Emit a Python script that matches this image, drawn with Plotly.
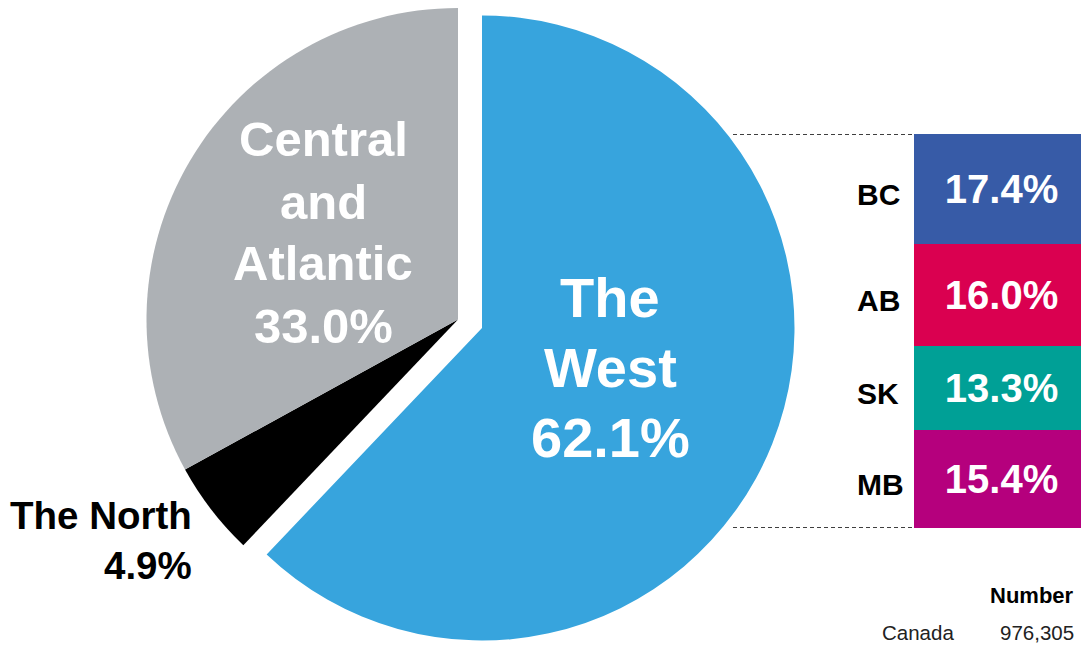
import plotly.graph_objects as go

# ---- data ----
pie_labels = ["The West", "The North", "Central and Atlantic"]
pie_values = [62.1, 4.9, 33.0]
pie_colors = ["#37a4dd", "#000000", "#adb1b5"]

prov_labels = ["MB", "SK", "AB", "BC"]          # bottom to top
prov_values = [15.4, 13.3, 16.0, 17.4]
prov_colors = ["#b5007d", "#00a096", "#da0050", "#375ba7"]

table_header = "Number"
table_rows = [("Canada", "976,305")]

# page body has an 8px default margin; lay out in reference pixels and shift
OFF = 8
W, H = 1089 - OFF, 646 - OFF
FONT = "Liberation Sans, Arial, sans-serif"
CLEAR = "rgba(0,0,0,0)"


def fx(x):
    return (x - OFF) / W


def fy(y):
    return (H - (y - OFF)) / H


def dom_x(c, r):
    return [fx(c - r), fx(c + r)]


def dom_y(c, r):
    return [fy(c + r), fy(c - r)]


fig = go.Figure()

# West slice (pulled out) drawn as its own pie layer
fig.add_trace(go.Pie(
    labels=pie_labels, values=pie_values, sort=False, direction="clockwise", rotation=0,
    marker=dict(colors=[pie_colors[0], CLEAR, CLEAR], line=dict(width=0)),
    textinfo="none", hoverinfo="skip", showlegend=False,
    domain=dict(x=dom_x(482, 312.5), y=dom_y(328, 312.5)),
))
# North + Central slices
fig.add_trace(go.Pie(
    labels=pie_labels, values=pie_values, sort=False, direction="clockwise", rotation=0,
    marker=dict(colors=[CLEAR, pie_colors[1], pie_colors[2]], line=dict(width=0)),
    textinfo="none", hoverinfo="skip", showlegend=False,
    domain=dict(x=dom_x(458, 311.5), y=dom_y(319.5, 311.5)),
))

# stacked bar for provinces of the West
for lab, val, col in zip(prov_labels, prov_values, prov_colors):
    fig.add_trace(go.Bar(
        x=[""], y=[val], name=lab, marker=dict(color=col, line=dict(width=0)),
        text=[f"{val:.1f}%"], textposition="inside", insidetextanchor="middle",
        textangle=0, constraintext="none",
        textfont=dict(family=FONT, size=40, color="white", weight="bold"),
        hoverinfo="skip", showlegend=False,
    ))

total = sum(prov_values)
bar_top, bar_bot = 134, 528
fig.update_layout(
    width=W, height=H, margin=dict(l=0, r=0, t=0, b=0),
    paper_bgcolor="white", plot_bgcolor="white",
    barmode="stack", bargap=0,
    xaxis=dict(domain=[fx(914), 1], visible=False, fixedrange=True),
    yaxis=dict(domain=[fy(bar_bot), fy(bar_top)], range=[0, total],
               visible=False, fixedrange=True),
)

# dashed connector lines
for yv in (0, total):
    fig.add_shape(type="line", xref="paper", yref="y", x0=fx(733), x1=fx(914), y0=yv, y1=yv,
                  line=dict(color="black", width=1.3, dash="4px,3px"))

ann = []
# province labels
cum = 0
for lab, val in zip(prov_labels, prov_values):
    mid = cum + val / 2
    cum += val
    ann.append(dict(x=fx(855), y=mid, xref="paper", yref="y", text=lab, showarrow=False,
                    xanchor="left", yanchor="middle", yshift=-5,
                    font=dict(family=FONT, size=30, color="black", weight="bold")))

# pie labels, one annotation per line
lines = {"The West": ["The", "West"], "The North": ["The North"],
         "Central and Atlantic": ["Central", "and", "Atlantic"]}
place = {"The West": (610, [297, 367, 437], "center", 56, "white"),
         "The North": (194, [516, 565], "right", 38.5, "black"),
         "Central and Atlantic": (323, [139, 202, 263, 326], "center", 49, "white")}
for lab, val in zip(pie_labels, pie_values):
    x, ys, anc, sz, col = place[lab]
    texts = lines[lab] + [f"{val:.1f}%"]
    for t, y in zip(texts, ys):
        ann.append(dict(x=fx(x), y=fy(y), xref="paper", yref="paper", text=t, showarrow=False,
                        xanchor=anc, yanchor="middle",
                        font=dict(family=FONT, size=sz, color=col, weight="bold")))

# small table
ann.append(dict(x=fx(1076), y=fy(595), xref="paper", yref="paper", text=table_header,
                showarrow=False, xanchor="right", yanchor="middle",
                font=dict(family=FONT, size=22, color="black", weight="bold")))
for name, num in table_rows:
    ann.append(dict(x=fx(880), y=fy(632), xref="paper", yref="paper", text=name,
                    showarrow=False, xanchor="left", yanchor="middle",
                    font=dict(family=FONT, size=20.5, color="#222222")))
    ann.append(dict(x=fx(1076), y=fy(632), xref="paper", yref="paper", text=num,
                    showarrow=False, xanchor="right", yanchor="middle",
                    font=dict(family=FONT, size=20.5, color="#222222")))

fig.update_layout(annotations=ann)
fig.write_html("out.html")
